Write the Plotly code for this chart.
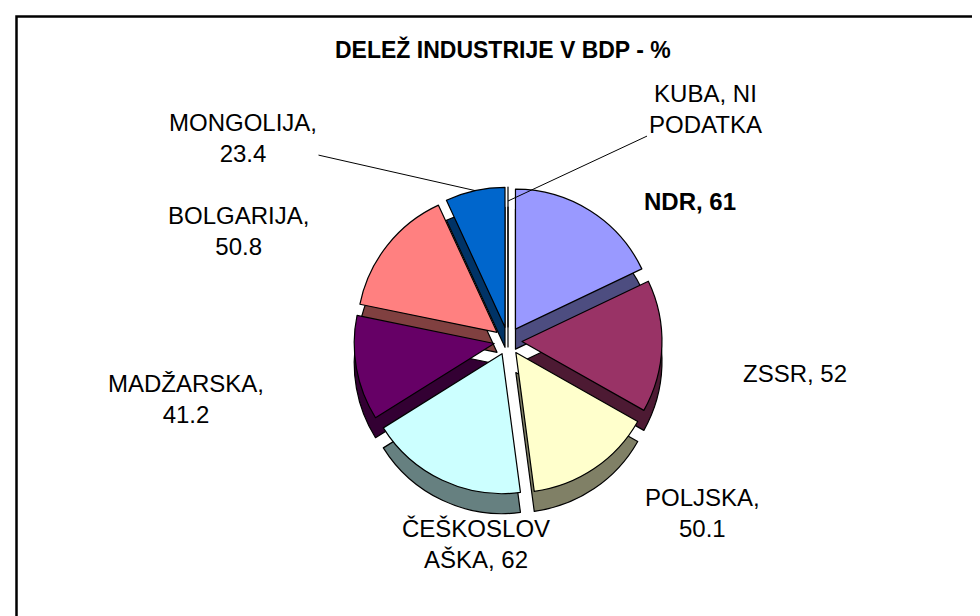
import math
import plotly.graph_objects as go

# ---- data ----
categories = ["NDR", "ZSSR", "POLJSKA", "ČEŠKOSLOVAŠKA", "MADŽARSKA", "BOLGARIJA", "MONGOLIJA", "KUBA"]
values = [61, 52, 50.1, 62, 41.2, 50.8, 23.4, 0]
missing_text = "NI PODATKA"
title_text = "DELEŽ INDUSTRIJE V BDP - %"

# ---- styles ----
top_colors = ["#9999FF", "#993366", "#FFFFCC", "#CCFFFF", "#660066", "#FF8080", "#0066CC", "#CCCCFF"]
side_colors = ["#4D4D80", "#4D1A33", "#808066", "#668080", "#330033", "#804040", "#003366", "#666680"]
FONT = "Liberation Sans, Arial, sans-serif"
LABEL_SIZE = 24
W, H = 980, 616
CX, CY, R, PULL, DEPTH = 500, 333, 140, 0.1, 20

# label block centres in pixels (layout positions)
label_pos = [(682, 193), (787, 365), (694, 505), (468, 536), (178, 391), (230, 223), (235, 130), (697, 101)]
leader = [False, False, False, False, False, False, True, True]


def label_for(cat, val):
    if val == 0:
        return f"{cat}, NI<br>PODATKA"
    txt = f"{cat}, {val:g}"
    if len(txt) <= 9:
        return txt
    if len(cat) > 9:
        return txt[:9] + "<br>" + txt[9:]
    return f"{cat},<br>{val:g}"


def px(x):
    return x / W


def py(y):
    return 1 - y / H


half = R * (1 + PULL)


def domain(dy):
    return dict(x=[px(CX - half), px(CX + half)], y=[py(CY + dy + half), py(CY + dy - half)])


fig = go.Figure()
# side walls (depth) pie
fig.add_trace(go.Pie(
    labels=categories, values=values, sort=False, direction="clockwise", rotation=0,
    pull=[PULL] * len(values), textinfo="none", hoverinfo="skip", showlegend=False,
    marker=dict(colors=side_colors, line=dict(color="black", width=1.2)),
    domain=domain(DEPTH),
))
# top surface pie
fig.add_trace(go.Pie(
    labels=categories, values=values, sort=False, direction="clockwise", rotation=0,
    pull=[PULL] * len(values), textinfo="none", showlegend=False,
    marker=dict(colors=top_colors, line=dict(color="black", width=1.2)),
    domain=domain(0),
))

total = sum(values)
annotations = []
cum = 0.0
for i, (cat, val) in enumerate(zip(categories, values)):
    mid = (cum + val / 2) / total * 2 * math.pi
    cum += val
    txt = label_for(cat, val)
    if i == 0:
        txt = f"<b>{txt}</b>"
    lx, ly = label_pos[i]
    font = dict(family=FONT, size=LABEL_SIZE, color="black")
    if leader[i]:
        rr = R * (1 + PULL) if val > 0 else R
        tx = CX + rr * math.sin(mid)
        ty = CY - rr * math.cos(mid)
        annotations.append(dict(
            x=px(tx), y=py(ty), xref="paper", yref="paper", text=txt,
            showarrow=True, arrowhead=0, arrowwidth=1, arrowcolor="black", standoff=0,
            ax=lx - tx, ay=ly - ty, font=font, align="center",
        ))
    else:
        annotations.append(dict(
            x=px(lx), y=py(ly), xref="paper", yref="paper", text=txt, showarrow=False,
            xanchor="center", yanchor="middle", font=font, align="center",
        ))

annotations.append(dict(
    x=px(495), y=py(42), xref="paper", yref="paper", text=f"<b>{title_text}</b>",
    showarrow=False, xanchor="center", yanchor="middle",
    font=dict(family=FONT, size=23, color="black"),
))

fig.update_layout(
    width=W, height=H, margin=dict(l=0, r=0, t=0, b=0),
    paper_bgcolor="white", plot_bgcolor="white",
    annotations=annotations,
    shapes=[dict(type="rect", xref="paper", yref="paper", x0=px(8.5), y0=py(8.5), x1=1.05, y1=-0.05,
                 line=dict(color="black", width=2.5), fillcolor="rgba(0,0,0,0)")],
)

fig.write_html("out.html")
